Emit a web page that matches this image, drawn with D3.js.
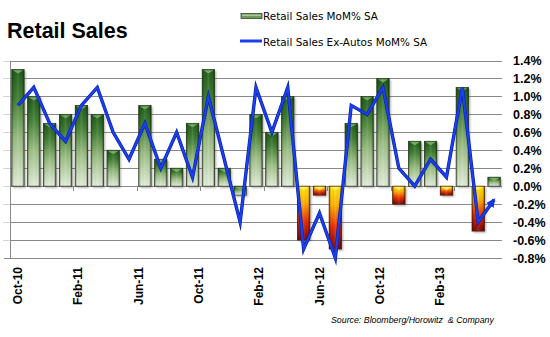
<!DOCTYPE html>
<html lang="en">
<head>
<meta charset="UTF-8">
<title>Retail Sales</title>
<style>
  body { margin: 0; background: #fff; }
  svg { display: block; }
  .grid line { stroke: #8a8a8a; stroke-width: 1; }
  .ylab { font-family: "Liberation Sans", Arial, sans-serif; font-weight: bold; font-size: 12.5px; fill: #000; }
  .xlab { font-family: "Liberation Sans", Arial, sans-serif; font-weight: bold; font-size: 12px; fill: #000; }
  .legend text { font-family: "DejaVu Sans", sans-serif; font-size: 10.4px; fill: #000; }
</style>
</head>
<body>
<div id="chart"></div>
<script src="https://cdn.jsdelivr.net/npm/d3@7"></script>
<script>
// monthly series, Oct-10 .. Apr-13
const months = ["Oct-10","Nov-10","Dec-10","Jan-11","Feb-11","Mar-11","Apr-11","May-11","Jun-11","Jul-11",
  "Aug-11","Sep-11","Oct-11","Nov-11","Dec-11","Jan-12","Feb-12","Mar-12","Apr-12","May-12",
  "Jun-12","Jul-12","Aug-12","Sep-12","Oct-12","Nov-12","Dec-12","Jan-13","Feb-13","Mar-13","Apr-13"];
const retailSales = [1.3, 1.0, 0.7, 0.8, 0.9, 0.8, 0.4, 0.0, 0.9, 0.3,
  0.2, 0.7, 1.3, 0.2, -0.1, 0.8, 0.6, 1.0, -0.6, -0.1,
  -0.7, 0.7, 1.0, 1.2, -0.2, 0.5, 0.5, -0.1, 1.1, -0.5, 0.1];
const exAutos = [0.9, 1.1, 0.7, 0.5, 0.9, 1.1, 0.6, 0.3, 0.7, 0.2,
  0.6, 0.1, 1.0, 0.3, -0.4, 1.1, 0.6, 1.1, -0.7, -0.3,
  -0.8, 0.9, 0.8, 1.1, 0.2, 0.0, 0.3, 0.1, 1.1, -0.4, -0.15];
const yTicks = [1.4, 1.2, 1.0, 0.8, 0.6, 0.4, 0.2, 0.0, -0.2, -0.4, -0.6, -0.8];
const monthLabels = ["Oct-10","Feb-11","Jun-11","Oct-11","Feb-12","Jun-12","Oct-12","Feb-13"];
const greenNegatives = ["Dec-11"];

const W = 550, H = 337;
const plot = { left: 10, right: 502, top: 60.5, bottom: 258 };

const svg = d3.select("#chart").append("svg")
  .attr("width", W)
  .attr("height", H);

svg.append("rect").attr("width", W).attr("height", H).attr("fill", "#fff");

const x = d3.scaleBand()
  .domain(months)
  .range([plot.left, plot.right])
  .paddingInner(0.22)
  .paddingOuter(0.11);

const y = d3.scaleLinear()
  .domain([-0.8, 1.4])
  .range([plot.bottom, plot.top]);

// label axis runs on its own spacing
const xLab = d3.scalePoint()
  .domain(monthLabels)
  .range([17.7, 440]);

// gradients, shadow blur, arrow head
const defs = svg.append("defs");

function vGrad(id, stops) {
  const g = defs.append("linearGradient").attr("id", id)
    .attr("x1", 0).attr("y1", 0).attr("x2", 0).attr("y2", 1);
  stops.forEach(s => g.append("stop").attr("offset", s[0]).attr("stop-color", s[1]));
}
vGrad("greenFill", [["0%", "#1f5a18"], ["25%", "#3f7d31"], ["60%", "#9cbf84"], ["100%", "#e4eedb"]]);
vGrad("warmFill", [["0%", "#ffe600"], ["30%", "#ffb000"], ["65%", "#e82a00"], ["100%", "#7a0606"]]);

const edge = defs.append("linearGradient").attr("id", "edgeShade")
  .attr("x1", 0).attr("y1", 0).attr("x2", 1).attr("y2", 0);
[["0%", "#000", 0.35], ["18%", "#000", 0], ["50%", "#fff", 0.12], ["82%", "#000", 0], ["100%", "#000", 0.4]]
  .forEach(s => edge.append("stop").attr("offset", s[0]).attr("stop-color", s[1]).attr("stop-opacity", s[2]));

defs.append("filter").attr("id", "soft")
  .attr("x", "-50%").attr("y", "-50%").attr("width", "200%").attr("height", "200%")
  .append("feGaussianBlur").attr("stdDeviation", 1);

defs.append("marker").attr("id", "arrow")
  .attr("viewBox", "0 0 10 10")
  .attr("refX", 8).attr("refY", 5)
  .attr("markerWidth", 9).attr("markerHeight", 9)
  .attr("markerUnits", "userSpaceOnUse")
  .attr("orient", "auto")
  .append("path").attr("d", "M0,0 L10,5 L0,10 Z").attr("fill", "#1638e4");

// gridlines
const grid = svg.append("g").attr("class", "grid");
grid.selectAll("line.h")
  .data(yTicks)
  .enter().append("line")
  .attr("class", "h")
  .attr("x1", d => d === -0.8 ? 4 : plot.left)
  .attr("x2", plot.right)
  .attr("y1", d => Math.round(y(d)) + 0.5)
  .attr("y2", d => Math.round(y(d)) + 0.5);

grid.selectAll("line.t")
  .data(yTicks.slice(0, -1))
  .enter().append("line")
  .attr("class", "t")
  .attr("x1", 3).attr("x2", plot.left)
  .attr("y1", d => Math.round(y(d)) + 0.5)
  .attr("y2", d => Math.round(y(d)) + 0.5)
  .style("stroke", "#d4d4d4");

grid.append("line")
  .attr("x1", plot.left + 0.5).attr("x2", plot.left + 0.5)
  .attr("y1", Math.round(y(1.4)))
  .attr("y2", Math.round(y(-0.8)) + 1);

// category ticks hanging off the zero line, every fourth month
const half = (x.step() - x.bandwidth()) / 2;
grid.selectAll("line.c")
  .data(months.filter((m, i) => i > 0 && i % 4 === 0))
  .enter().append("line")
  .attr("class", "c")
  .attr("x1", d => Math.round(x(d) - half) + 0.5)
  .attr("x2", d => Math.round(x(d) - half) + 0.5)
  .attr("y1", Math.round(y(0)) + 0.5)
  .attr("y2", Math.round(y(0)) + 5);

// bars
const bars = months.map((m, i) => ({ m: m, v: retailSales[i] }));
const bw = x.bandwidth();

const barG = svg.append("g").selectAll("g")
  .data(bars.filter(d => d.v !== 0))
  .enter().append("g")
  .attr("transform", d => `translate(${x(d.m)},${Math.min(y(0), y(d.v))})`);

const barH = d => Math.abs(y(d.v) - y(0));
const warm = d => d.v < 0 && !greenNegatives.includes(d.m);

barG.append("rect")
  .attr("x", 1.5).attr("y", 1.5)
  .attr("width", bw).attr("height", barH)
  .attr("fill", "#444").attr("opacity", 0.45)
  .attr("filter", "url(#soft)");

barG.append("rect")
  .attr("width", bw).attr("height", barH)
  .attr("fill", d => warm(d) ? "url(#warmFill)" : "url(#greenFill)")
  .attr("stroke", d => warm(d) ? "#5a2a10" : "#34462c")
  .attr("stroke-width", 0.8);

barG.append("rect")
  .attr("width", bw).attr("height", barH)
  .attr("fill", "url(#edgeShade)");

barG.append("path")
  .attr("d", d => {
    const t = Math.min(4, barH(d) / 2);
    return `M1,0.8 L${bw - 1},0.8 L${bw / 2},${t} Z`;
  })
  .attr("fill", d => warm(d) ? "#fff176" : "#7fb568")
  .attr("opacity", 0.85);

// ex-autos line
const line = d3.line()
  .x(d => x(d.m) + bw / 2)
  .y(d => y(d.v));

svg.append("path")
  .datum(months.map((m, i) => ({ m: m, v: exAutos[i] })))
  .attr("d", line)
  .attr("fill", "none")
  .attr("stroke", "#0a1f9c")
  .attr("stroke-width", 3.4)
  .attr("stroke-linejoin", "miter")
  .attr("stroke-miterlimit", 6);

svg.append("path")
  .datum(months.map((m, i) => ({ m: m, v: exAutos[i] })))
  .attr("d", line)
  .attr("fill", "none")
  .attr("stroke", "#1a3ff0")
  .attr("stroke-width", 2.2)
  .attr("stroke-linejoin", "miter")
  .attr("stroke-miterlimit", 6)
  .attr("marker-end", "url(#arrow)");

// value axis on the right
svg.append("g").selectAll("text")
  .data(yTicks)
  .enter().append("text")
  .attr("class", "ylab")
  .attr("x", 513)
  .attr("y", d => y(d))
  .attr("dy", "0.36em")
  .text(d => d.toFixed(1) + "%");

// month labels, rotated
svg.append("g").selectAll("text")
  .data(monthLabels)
  .enter().append("text")
  .attr("class", "xlab")
  .attr("transform", d => `translate(${xLab(d)},267) rotate(-90)`)
  .attr("text-anchor", "end")
  .attr("dy", "0.36em")
  .text(d => d);

// title
svg.append("text")
  .attr("x", 7).attr("y", 38)
  .style("font-family", "'Liberation Sans', Arial, sans-serif")
  .style("font-weight", "bold")
  .style("font-size", "21.5px")
  .text("Retail Sales");

// legend
const legend = svg.append("g").attr("class", "legend");
legend.append("rect")
  .attr("x", 241).attr("y", 13.5).attr("width", 21).attr("height", 5)
  .attr("fill", "#6f9a58").attr("stroke", "#34462c").attr("stroke-width", 0.8);
legend.append("rect")
  .attr("x", 242).attr("y", 14.5).attr("width", 19).attr("height", 1.5)
  .attr("fill", "#a9c895");
legend.append("text").attr("x", 263).attr("y", 19.5).text("Retail Sales MoM% SA");

legend.append("line")
  .attr("x1", 240).attr("x2", 262).attr("y1", 41).attr("y2", 41)
  .attr("stroke", "#1a3ff0").attr("stroke-width", 3);
legend.append("text").attr("x", 263).attr("y", 45.5).text("Retail Sales Ex-Autos MoM% SA");

// source note
svg.append("text")
  .attr("x", 331).attr("y", 323)
  .style("font-family", "'Liberation Sans', Arial, sans-serif")
  .style("font-style", "italic")
  .style("font-size", "8.8px")
  .style("white-space", "pre")
  .text("Source: Bloomberg/Horowitz  & Company");
</script>
</body>
</html>
